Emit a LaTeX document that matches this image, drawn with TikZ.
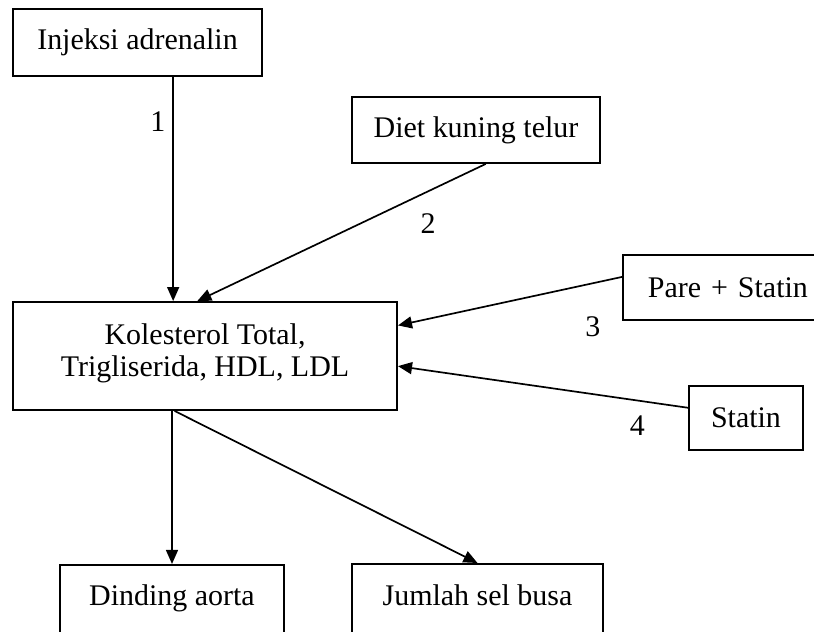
\documentclass[tikz,border=0pt]{standalone}
\usepackage{fontspec}
\setmainfont{Liberation Serif}
\usetikzlibrary{arrows.meta}

\begin{document}
\begin{tikzpicture}[x=0.025cm, y=-0.025cm,
  box/.style={draw, line width=1.3pt, inner sep=0pt, font=\fontsize{21.3}{23}\selectfont},
  arr/.style={line width=1.2pt, -{Triangle[length=10pt, width=8.5pt]}},
  num/.style={inner sep=2pt, font=\fontsize{21.3}{23}\selectfont}]
\clip (0,0) rectangle (814,631);
% boxes
\node[box, minimum width=6.225cm, minimum height=1.675cm] (inj) at (137.5,42.5) {Injeksi adrenalin};
\node[box, minimum width=6.2cm, minimum height=1.65cm] (diet) at (476,130) {Diet kuning telur};
\node[box, minimum width=9.6cm, minimum height=2.7cm, align=center, text depth=0.3cm] (kol) at (205,356) {Kolesterol Total,\\Trigliserida, HDL, LDL};
\node[box, anchor=west, minimum height=1.625cm, inner xsep=0.625cm, text width=4.75cm, align=left] (pare) at (622,287.5) {Pare + Statin};
\node[box, minimum width=2.85cm, minimum height=1.6cm] (statin) at (746,418) {Statin};
\node[box, anchor=north, minimum width=5.6cm, text height=1.025cm, text depth=1.375cm] (din) at (172,564) {Dinding aorta};
\node[box, anchor=north, minimum width=6.275cm, text height=1.05cm, text depth=1.375cm] (jum) at (477.5,563) {Jumlah sel busa};
% arrows
\draw[arr] (inj.-44.2) -- (inj.-44.2 |- kol.north) node[num, pos=0.2, left=3pt] {1};
\draw[arr] (diet.-74.7) -- (kol.98.4) node[num, pos=0.2, below=13pt] {2};
\draw[arr] (pare.175.5) -- (kol.9.75) node[num, pos=0.13, below=21pt] {3};
\draw[arr] (statin.170) -- (kol.-3.6) node[num, pos=0.175, below=8pt] {4};
\draw[arr] (din.north |- kol.south) -- (din.north);
\draw[arr] (kol.-119.1) -- (jum.north);
\end{tikzpicture}
\end{document}
